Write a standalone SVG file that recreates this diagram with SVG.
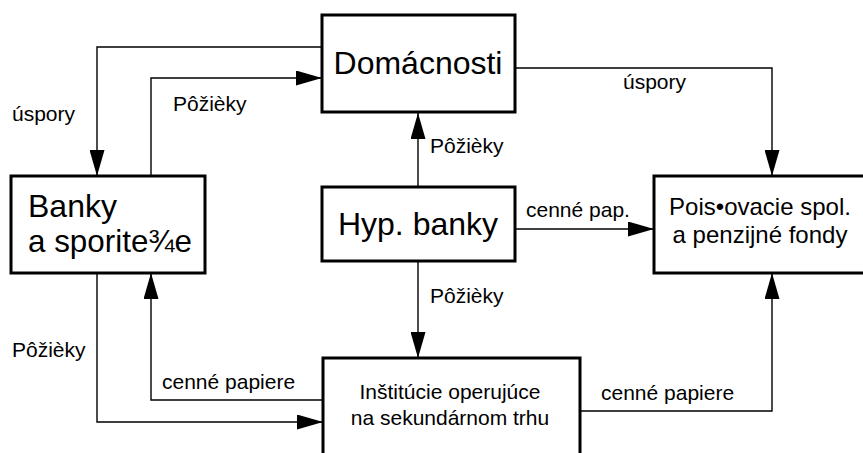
<svg xmlns="http://www.w3.org/2000/svg" width="863" height="453" viewBox="0 0 863 453">
<style>
.box{fill:#fff;stroke:#000;stroke-width:3}
.ln{fill:none;stroke:#000;stroke-width:1.4}
.big{font-family:"Liberation Sans",Arial,sans-serif;font-size:32px;fill:#000}
.mid{font-family:"Liberation Sans",Arial,sans-serif;font-size:24px;fill:#000}
.sm{font-family:"Liberation Sans",Arial,sans-serif;font-size:21px;fill:#000}
</style>
<defs>
<marker id="ah" markerUnits="userSpaceOnUse" markerWidth="26" markerHeight="15" refX="26" refY="7.5" orient="auto">
<path d="M0,0 L26,7.5 L0,15 z" fill="#000"/>
</marker>
</defs>
<rect width="863" height="453" fill="#fff"/>
<g id="connectors">
<polyline class="ln" points="322,47 97,47 97,176" marker-end="url(#ah)"/>
<polyline class="ln" points="151,176 151,78 322,78" marker-end="url(#ah)"/>
<polyline class="ln" points="515,68 772,68 772,176" marker-end="url(#ah)"/>
<line class="ln" x1="418" y1="187" x2="418" y2="113" marker-end="url(#ah)"/>
<line class="ln" x1="515" y1="229" x2="654" y2="229" marker-end="url(#ah)"/>
<line class="ln" x1="418" y1="261" x2="418" y2="358" marker-end="url(#ah)"/>
<polyline class="ln" points="580,411 772,411 772,273" marker-end="url(#ah)"/>
<polyline class="ln" points="97,273 97,422 323,422" marker-end="url(#ah)"/>
<polyline class="ln" points="323,400 151,400 151,273" marker-end="url(#ah)"/>
<text class="sm" x="12" y="121">úspory</text>
<text class="sm" x="173" y="111">Pôžièky</text>
<text class="sm" x="623" y="89">úspory</text>
<text class="sm" x="430" y="153">Pôžièky</text>
<text class="sm" x="526" y="217">cenné pap.</text>
<text class="sm" x="430" y="303">Pôžièky</text>
<text class="sm" x="601" y="400">cenné papiere</text>
<text class="sm" x="12" y="357">Pôžièky</text>
<text class="sm" x="162" y="389">cenné papiere</text>
</g>
<g id="domacnosti">
<rect class="box" x="322" y="15" width="193" height="97"/>
<text class="big" x="418" y="74" text-anchor="middle">Domácnosti</text>
</g>
<g id="banky">
<rect class="box" x="11" y="176" width="194" height="97"/>
<text class="big" x="28" y="217">Banky</text>
<text class="big" x="28" y="252" textLength="164" lengthAdjust="spacingAndGlyphs">a sporite¾e</text>
</g>
<g id="hyp-banky">
<rect class="box" x="322" y="187" width="193" height="74"/>
<text class="big" x="418" y="235" text-anchor="middle">Hyp. banky</text>
</g>
<g id="poistovne">
<rect class="box" x="654" y="176" width="215" height="97"/>
<text class="mid" x="760" y="215" text-anchor="middle">Pois•ovacie spol.</text>
<text class="mid" x="760" y="243" text-anchor="middle">a penzijné fondy</text>
</g>
<g id="institucie">
<rect class="box" x="323" y="358" width="257" height="110"/>
<text class="sm" x="450" y="399" text-anchor="middle">Inštitúcie operujúce</text>
<text class="sm" x="450" y="425" text-anchor="middle">na sekundárnom trhu</text>
</g>
</svg>
